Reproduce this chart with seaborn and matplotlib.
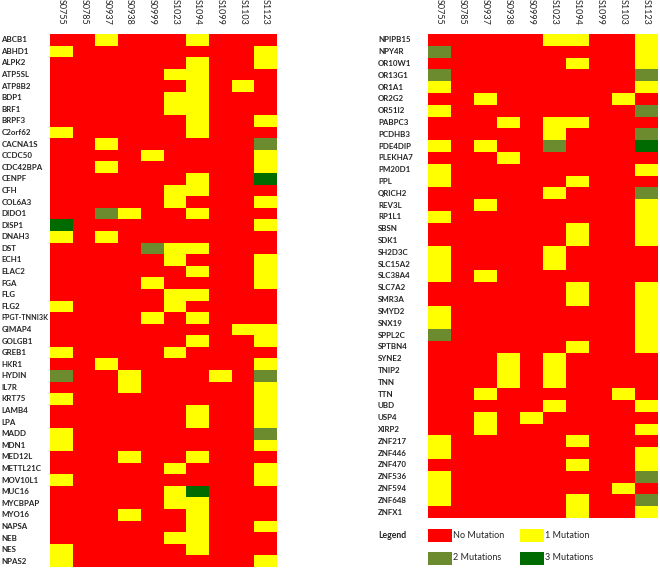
import numpy as np
import pandas as pd
import matplotlib
matplotlib.use("Agg")
import matplotlib.pyplot as plt
import seaborn as sns
from matplotlib.colors import ListedColormap
from matplotlib.patches import Rectangle

samples = ["S0755", "S0785", "S0937", "S0938", "S0999",
           "S1023", "S1094", "S1099", "S1103", "S1123"]

# 0 = no mutation, 1/2/3 = number of mutations
left_genes = ["ABCB1", "ABHD1", "ALPK2", "ATP5SL", "ATP8B2", "BDP1", "BRF1", "BRPF3",
              "C2orf62", "CACNA1S", "CCDC50", "CDC42BPA", "CENPF", "CFH", "COL6A3",
              "DIDO1", "DISP1", "DNAH3", "DST", "ECH1", "ELAC2", "FGA", "FLG", "FLG2",
              "FPGT-TNNI3K", "GIMAP4", "GOLGB1", "GREB1", "HKR1", "HYDIN", "IL7R",
              "KRT75", "LAMB4", "LPA", "MADD", "MDN1", "MED12L", "METTL21C", "MOV10L1",
              "MUC16", "MYCBPAP", "MYO16", "NAPSA", "NEB", "NES", "NPAS2"]
left_values = [
    [0, 0, 1, 0, 0, 0, 1, 0, 0, 0],  # ABCB1
    [1, 0, 0, 0, 0, 0, 0, 0, 0, 1],  # ABHD1
    [0, 0, 0, 0, 0, 0, 1, 0, 0, 1],  # ALPK2
    [0, 0, 0, 0, 0, 1, 1, 0, 0, 0],  # ATP5SL
    [0, 0, 0, 0, 0, 0, 1, 0, 1, 0],  # ATP8B2
    [0, 0, 0, 0, 0, 1, 1, 0, 0, 0],  # BDP1
    [0, 0, 0, 0, 0, 1, 1, 0, 0, 0],  # BRF1
    [0, 0, 0, 0, 0, 0, 1, 0, 0, 1],  # BRPF3
    [1, 0, 0, 0, 0, 0, 1, 0, 0, 0],  # C2orf62
    [0, 0, 1, 0, 0, 0, 0, 0, 0, 2],  # CACNA1S
    [0, 0, 0, 0, 1, 0, 0, 0, 0, 1],  # CCDC50
    [0, 0, 1, 0, 0, 0, 0, 0, 0, 1],  # CDC42BPA
    [0, 0, 0, 0, 0, 0, 1, 0, 0, 3],  # CENPF
    [0, 0, 0, 0, 0, 1, 1, 0, 0, 0],  # CFH
    [0, 0, 0, 0, 0, 1, 0, 0, 0, 1],  # COL6A3
    [0, 0, 2, 1, 0, 0, 1, 0, 0, 0],  # DIDO1
    [3, 0, 0, 0, 0, 0, 0, 0, 0, 1],  # DISP1
    [1, 0, 1, 0, 0, 0, 0, 0, 0, 0],  # DNAH3
    [0, 0, 0, 0, 2, 1, 1, 0, 0, 0],  # DST
    [0, 0, 0, 0, 0, 1, 0, 0, 0, 1],  # ECH1
    [0, 0, 0, 0, 0, 0, 1, 0, 0, 1],  # ELAC2
    [0, 0, 0, 0, 1, 0, 0, 0, 0, 1],  # FGA
    [0, 0, 0, 0, 0, 1, 1, 0, 0, 0],  # FLG
    [1, 0, 0, 0, 0, 1, 0, 0, 0, 0],  # FLG2
    [0, 0, 0, 0, 1, 0, 1, 0, 0, 0],  # FPGT-TNNI3K
    [0, 0, 0, 0, 0, 0, 0, 0, 1, 1],  # GIMAP4
    [0, 0, 0, 0, 0, 0, 1, 0, 0, 1],  # GOLGB1
    [1, 0, 0, 0, 0, 1, 0, 0, 0, 0],  # GREB1
    [0, 0, 1, 0, 0, 0, 0, 0, 0, 1],  # HKR1
    [2, 0, 0, 1, 0, 0, 0, 1, 0, 2],  # HYDIN
    [0, 0, 0, 1, 0, 0, 0, 0, 0, 1],  # IL7R
    [1, 0, 0, 0, 0, 0, 0, 0, 0, 1],  # KRT75
    [0, 0, 0, 0, 0, 0, 1, 0, 0, 1],  # LAMB4
    [0, 0, 0, 0, 0, 0, 1, 0, 0, 1],  # LPA
    [1, 0, 0, 0, 0, 0, 0, 0, 0, 2],  # MADD
    [1, 0, 0, 0, 0, 0, 0, 0, 0, 1],  # MDN1
    [0, 0, 0, 1, 0, 0, 1, 0, 0, 0],  # MED12L
    [0, 0, 0, 0, 0, 1, 0, 0, 0, 1],  # METTL21C
    [1, 0, 0, 0, 0, 0, 0, 0, 0, 1],  # MOV10L1
    [0, 0, 0, 0, 0, 1, 3, 0, 0, 0],  # MUC16
    [0, 0, 0, 0, 0, 1, 1, 0, 0, 0],  # MYCBPAP
    [0, 0, 0, 1, 0, 0, 1, 0, 0, 0],  # MYO16
    [0, 0, 0, 0, 0, 0, 1, 0, 0, 1],  # NAPSA
    [0, 0, 0, 0, 0, 1, 1, 0, 0, 0],  # NEB
    [1, 0, 0, 0, 0, 0, 1, 0, 0, 0],  # NES
    [1, 0, 0, 0, 0, 0, 0, 0, 0, 1],  # NPAS2
]

right_genes = ["NPIPB15", "NPY4R", "OR10W1", "OR13G1", "OR1A1", "OR2G2", "OR51I2",
               "PABPC3", "PCDHB3", "PDE4DIP", "PLEKHA7", "PM20D1", "PPL", "QRICH2",
               "REV3L", "RP1L1", "SBSN", "SDK1", "SH2D3C", "SLC15A2", "SLC38A4",
               "SLC7A2", "SMR3A", "SMYD2", "SNX19", "SPPL2C", "SPTBN4", "SYNE2",
               "TNIP2", "TNN", "TTN", "UBD", "USP4", "XIRP2", "ZNF217", "ZNF446",
               "ZNF470", "ZNF536", "ZNF594", "ZNF648", "ZNFX1"]
right_values = [
    [0, 0, 0, 0, 0, 1, 1, 0, 0, 1],  # NPIPB15
    [2, 0, 0, 0, 0, 0, 0, 0, 0, 1],  # NPY4R
    [0, 0, 0, 0, 0, 0, 1, 0, 0, 1],  # OR10W1
    [2, 0, 0, 0, 0, 0, 0, 0, 0, 2],  # OR13G1
    [1, 0, 0, 0, 0, 0, 0, 0, 0, 1],  # OR1A1
    [0, 0, 1, 0, 0, 0, 0, 0, 1, 0],  # OR2G2
    [1, 0, 0, 0, 0, 0, 0, 0, 0, 2],  # OR51I2
    [0, 0, 0, 1, 0, 1, 1, 0, 0, 0],  # PABPC3
    [0, 0, 0, 0, 0, 1, 0, 0, 0, 2],  # PCDHB3
    [1, 0, 1, 0, 0, 2, 0, 0, 0, 3],  # PDE4DIP
    [0, 0, 0, 1, 0, 0, 0, 0, 0, 0],  # PLEKHA7
    [1, 0, 0, 0, 0, 0, 0, 0, 0, 1],  # PM20D1
    [1, 0, 0, 0, 0, 0, 1, 0, 0, 0],  # PPL
    [0, 0, 0, 0, 0, 1, 0, 0, 0, 2],  # QRICH2
    [0, 0, 1, 0, 0, 0, 0, 0, 0, 1],  # REV3L
    [1, 0, 0, 0, 0, 0, 0, 0, 0, 1],  # RP1L1
    [0, 0, 0, 0, 0, 0, 1, 0, 0, 1],  # SBSN
    [0, 0, 0, 0, 0, 0, 1, 0, 0, 1],  # SDK1
    [1, 0, 0, 0, 0, 1, 0, 0, 0, 0],  # SH2D3C
    [1, 0, 0, 0, 0, 1, 0, 0, 0, 0],  # SLC15A2
    [1, 0, 1, 0, 0, 0, 0, 0, 0, 0],  # SLC38A4
    [0, 0, 0, 0, 0, 0, 1, 0, 0, 1],  # SLC7A2
    [0, 0, 0, 0, 0, 0, 1, 0, 0, 1],  # SMR3A
    [1, 0, 0, 0, 0, 0, 0, 0, 0, 1],  # SMYD2
    [1, 0, 0, 0, 0, 0, 0, 0, 0, 1],  # SNX19
    [2, 0, 0, 0, 0, 0, 0, 0, 0, 1],  # SPPL2C
    [0, 0, 0, 0, 0, 0, 1, 0, 0, 1],  # SPTBN4
    [0, 0, 0, 1, 0, 1, 0, 0, 0, 0],  # SYNE2
    [0, 0, 0, 1, 0, 1, 0, 0, 0, 0],  # TNIP2
    [0, 0, 0, 1, 0, 1, 0, 0, 0, 0],  # TNN
    [0, 0, 1, 0, 0, 0, 0, 0, 1, 0],  # TTN
    [0, 0, 0, 0, 0, 1, 0, 0, 0, 1],  # UBD
    [0, 0, 1, 0, 1, 0, 0, 0, 0, 0],  # USP4
    [0, 0, 1, 0, 0, 0, 0, 0, 0, 1],  # XIRP2
    [1, 0, 0, 0, 0, 0, 1, 0, 0, 0],  # ZNF217
    [1, 0, 0, 0, 0, 0, 0, 0, 0, 1],  # ZNF446
    [0, 0, 0, 0, 0, 0, 1, 0, 0, 1],  # ZNF470
    [1, 0, 0, 0, 0, 0, 0, 0, 0, 2],  # ZNF536
    [1, 0, 0, 0, 0, 0, 0, 0, 1, 0],  # ZNF594
    [1, 0, 0, 0, 0, 0, 1, 0, 0, 2],  # ZNF648
    [0, 0, 0, 0, 0, 0, 1, 0, 0, 1],  # ZNFX1
]

legend_labels = ["No Mutation", "1 Mutation", "2 Mutations", "3 Mutations"]
colors = ["#FF0000", "#FFFF00", "#6B8B2E", "#006B00"]

sns.set_style("white")
plt.rcParams["font.family"] = ["Lato", "DejaVu Sans"]
text_col = "#262626"

W, H = 660, 568
fig = plt.figure(figsize=(W / 100, H / 100), dpi=100)
cmap = ListedColormap(colors)


def px_axes(x0, y0, x1, y1):
    # pixel box (top-left origin) -> figure axes
    return fig.add_axes([x0 / W, 1 - y1 / H, (x1 - x0) / W, (y1 - y0) / H])


def draw_panel(ax, genes, values, label_pad):
    df = pd.DataFrame(values, index=genes, columns=samples)
    sns.heatmap(df, ax=ax, cmap=cmap, vmin=-0.5, vmax=3.5, cbar=False,
                xticklabels=True, yticklabels=True)
    ax.xaxis.tick_top()
    ax.tick_params(axis="both", length=0)
    ax.tick_params(axis="x", pad=6.5)
    ax.tick_params(axis="y", pad=label_pad)
    for t in ax.get_xticklabels():
        t.set_rotation(270)
        t.set_fontsize(6.5)
        t.set_color(text_col)
        t.set_va("bottom")
    for t in ax.get_yticklabels():
        t.set_rotation(0)
        t.set_ha("left")
        # the long fusion name needs to squeeze into the margin
        t.set_fontsize(5.1 if len(t.get_text()) > 9 else 5.7)
        t.set_fontweight("bold")
        t.set_color(text_col)


ax_left = px_axes(50, 34, 277, 567)
draw_panel(ax_left, left_genes, left_values, 35)

ax_right = px_axes(428, 34, 658, 518)
draw_panel(ax_right, right_genes, right_values, 36)

# legend block
ax_leg = px_axes(370, 522, 660, 568)
ax_leg.set_xlim(370, 660)
ax_leg.set_ylim(568, 522)
ax_leg.axis("off")
ax_leg.text(378, 535, "Legend", fontsize=6.3, fontweight="bold",
            color=text_col, va="center", ha="left")
spots = [(428, 535), (520, 535), (428, 558), (520, 558)]
for (x, y), c, lab in zip(spots, colors, legend_labels):
    ax_leg.add_patch(Rectangle((x, y - 6.5), 24, 13, color=c, lw=0))
    ax_leg.text(x + 25, y, lab, fontsize=6.5, color=text_col,
                va="center", ha="left")

plt.savefig("out.png", dpi=100)
